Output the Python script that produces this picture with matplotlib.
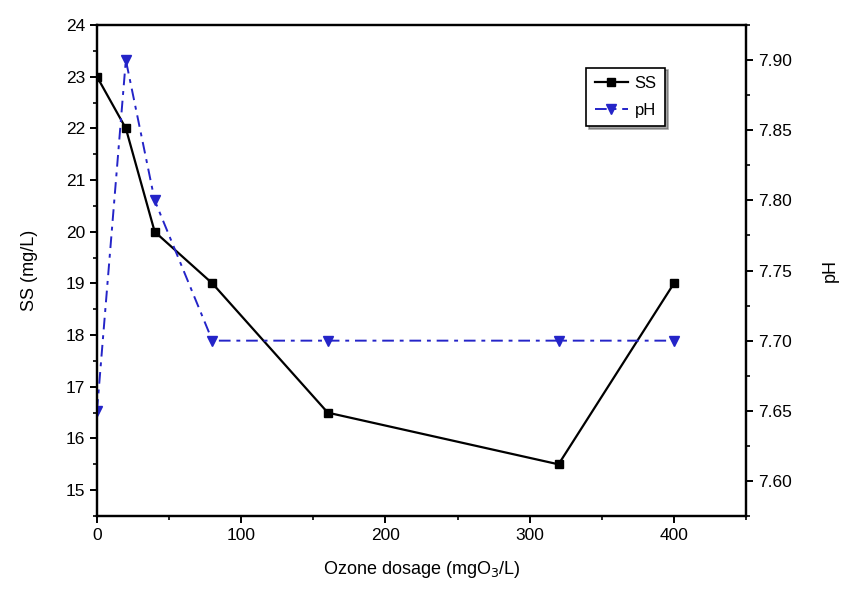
import matplotlib
matplotlib.use('Agg')
import matplotlib.pyplot as plt
from matplotlib.ticker import MultipleLocator

plt.rcParams['font.family'] = ['Liberation Sans', 'DejaVu Sans']

# данные
dosage = [0, 20, 40, 80, 160, 320, 400]
ss = [23, 22, 20, 19, 16.5, 15.5, 19]
ph = [7.65, 7.90, 7.80, 7.70, 7.70, 7.70, 7.70]

fig = plt.figure(figsize=(8.42, 6.01), dpi=100)
ax = fig.add_axes([0.1152, 0.1414, 0.7708, 0.817])
ax2 = ax.twinx()

l1, = ax.plot(dosage, ss, color='black', lw=1.6, marker='s', ms=6, label='SS', zorder=3)
l2, = ax2.plot(dosage, ph, color='#2424c8', lw=1.4, dashes=(6, 3, 2, 3), marker='v', ms=7, label='pH')

ax.set_xlim(0, 450)
ax.set_ylim(14.5, 24)
ax2.set_ylim(7.575, 7.925)

ax.xaxis.set_major_locator(MultipleLocator(100))
ax.xaxis.set_minor_locator(MultipleLocator(50))
ax.yaxis.set_major_locator(MultipleLocator(1))
ax.yaxis.set_minor_locator(MultipleLocator(0.5))
ax2.yaxis.set_major_locator(MultipleLocator(0.05))
ax2.yaxis.set_minor_locator(MultipleLocator(0.025))
ax2.set_yticks([7.60, 7.65, 7.70, 7.75, 7.80, 7.85, 7.90])
ax2.set_yticklabels(['7.60', '7.65', '7.70', '7.75', '7.80', '7.85', '7.90'])

for a in (ax, ax2):
    for s in a.spines.values():
        s.set_linewidth(1.6)
    a.tick_params(which='major', direction='out', length=5, width=1.4, labelsize=12.5)
    a.tick_params(which='minor', direction='out', length=3, width=1.2)
ax.tick_params(top=False, right=False, which='both')
ax2.tick_params(top=False, which='both')

ax.set_xlabel('Ozone dosage (mgO$_3$/L)', fontsize=13, labelpad=12)
ax.set_ylabel('SS (mg/L)', fontsize=13, labelpad=20)
ax2.set_ylabel('pH', fontsize=13, labelpad=22)

leg = ax.legend(handles=[l1, l2], loc='upper left', bbox_to_anchor=(0.741, 0.93),
                fontsize=12, frameon=True, fancybox=False, shadow=True,
                edgecolor='black', handlelength=2.0, borderpad=0.5, labelspacing=0.7,
                handletextpad=0.4)
leg.get_frame().set_linewidth(1.2)

fig.savefig('out.png', dpi=100)
